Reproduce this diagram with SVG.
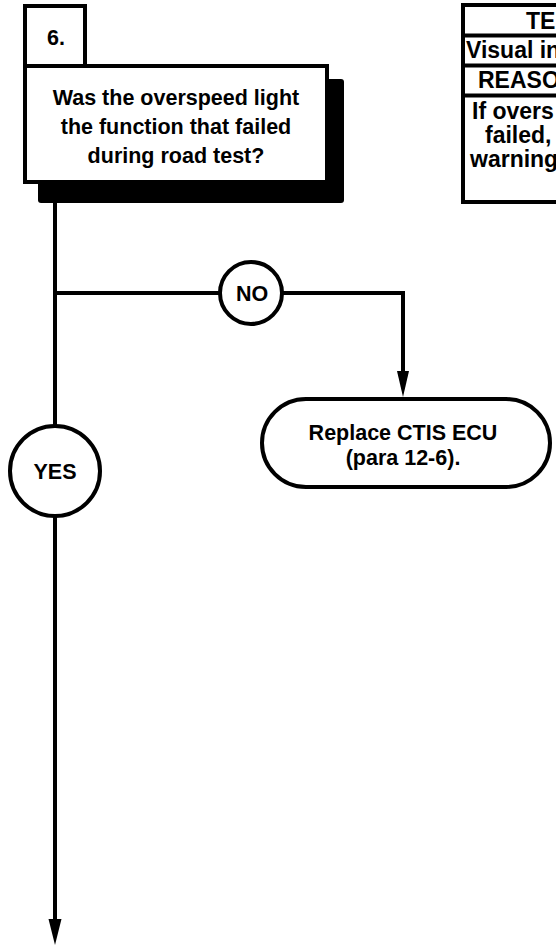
<svg xmlns="http://www.w3.org/2000/svg" width="556" height="946" viewBox="0 0 556 946">
<style>
.t{font-family:"Liberation Sans",Arial,sans-serif;font-weight:bold;font-size:21.5px;fill:#000}
.tt{font-family:"Liberation Sans",Arial,sans-serif;font-weight:bold;font-size:23px;fill:#000}
.c{text-anchor:middle}
.box{fill:#fff;stroke:#000;stroke-width:4}
.ln{fill:none;stroke:#000;stroke-width:4}
.ah{fill:#000;stroke:none}
</style>
<rect x="0" y="0" width="556" height="946" fill="#fff"/>
<g id="connectors">
<line class="ln" x1="55" y1="200" x2="55" y2="920"/>
<path class="ah" d="M48.5,919 L61.5,919 L55,945 Z"/>
<polyline class="ln" points="55,293 403,293 403,372"/>
<path class="ah" d="M397,371 L409,371 L403,397 Z"/>
</g>
<g id="step6">
<rect x="38" y="79" width="306" height="124" rx="3" fill="#000"/>
<rect class="box" x="25" y="6" width="60" height="60"/>
<text class="t" x="47" y="45">6.</text>
<rect class="box" x="25" y="66" width="302" height="116"/>
<text class="t c" x="176" y="105">Was the overspeed light</text>
<text class="t c" x="176" y="134">the function that failed</text>
<text class="t c" x="176" y="163">during road test?</text>
</g>
<g id="table">
<rect class="box" x="463" y="5" width="110" height="197"/>
<line class="ln" x1="463" y1="35.5" x2="560" y2="35.5" stroke-width="5"/>
<line class="ln" x1="463" y1="65.5" x2="560" y2="65.5" stroke-width="5"/>
<line class="ln" x1="463" y1="95.5" x2="560" y2="95.5" stroke-width="5"/>
<text class="tt" x="526" y="29">TE</text>
<text class="tt" x="466" y="58">Visual in</text>
<text class="tt" x="478" y="88">REASO</text>
<text class="tt" x="472" y="119">If overs</text>
<text class="tt" x="485" y="143">failed,</text>
<text class="tt" x="470" y="167">warning</text>
</g>
<g id="no">
<circle class="box" cx="251" cy="293" r="31"/>
<text class="t c" x="252" y="301">NO</text>
</g>
<g id="yes">
<circle class="box" cx="55" cy="471" r="45"/>
<text class="t c" x="55" y="479">YES</text>
</g>
<g id="replace">
<rect class="box" x="262" y="399" width="288" height="88" rx="44"/>
<text class="t c" x="403" y="440">Replace CTIS ECU</text>
<text class="t c" x="403" y="465">(para 12-6).</text>
</g>
</svg>
